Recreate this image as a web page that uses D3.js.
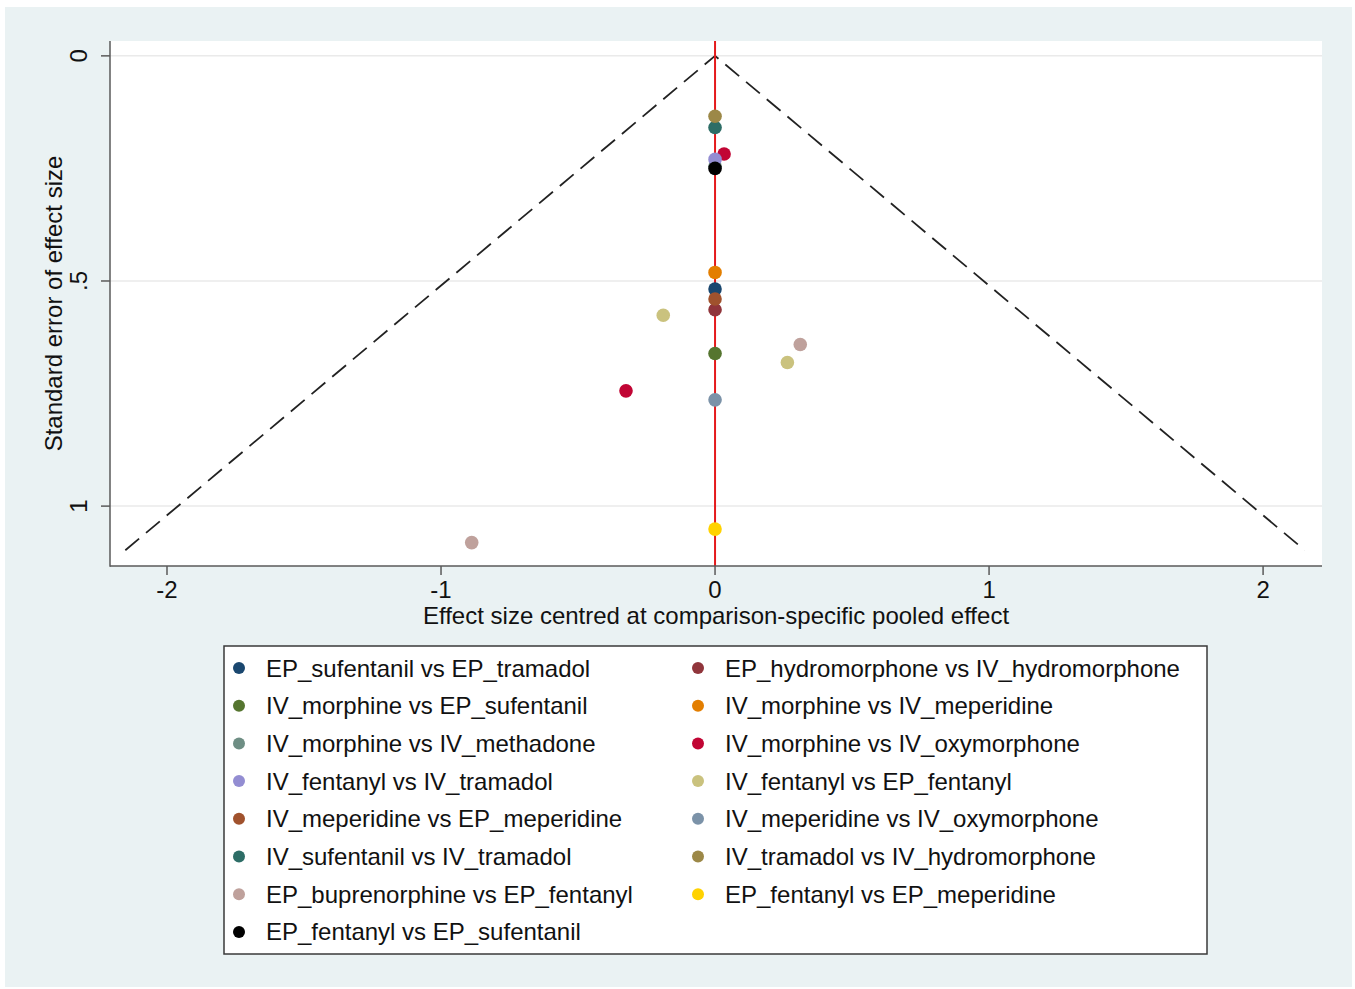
<!DOCTYPE html>
<html>
<head>
<meta charset="utf-8">
<script src="https://cdn.jsdelivr.net/npm/d3@7"></script>
<style>
  body { margin: 0; background: #ffffff; }
  svg { display: block; font-family: "Liberation Sans", Arial, sans-serif; }
</style>
</head>
<body>
<svg id="chart" width="1355" height="989"></svg>
<script>
// ---- Data ----
const seriesNames = [
  "EP_sufentanil vs EP_tramadol",
  "EP_hydromorphone vs IV_hydromorphone",
  "IV_morphine vs EP_sufentanil",
  "IV_morphine vs IV_meperidine",
  "IV_morphine vs IV_methadone",
  "IV_morphine vs IV_oxymorphone",
  "IV_fentanyl vs IV_tramadol",
  "IV_fentanyl vs EP_fentanyl",
  "IV_meperidine vs EP_meperidine",
  "IV_meperidine vs IV_oxymorphone",
  "IV_sufentanil vs IV_tramadol",
  "IV_tramadol vs IV_hydromorphone",
  "EP_buprenorphine vs EP_fentanyl",
  "EP_fentanyl vs EP_meperidine",
  "EP_fentanyl vs EP_sufentanil"
];
const seriesColors = [
  "#1a476f", "#90353b", "#55752f", "#e37e00", "#6e8e84",
  "#c10534", "#938dd2", "#cac27e", "#a0522d", "#7b92a8",
  "#2d6d66", "#9c8847", "#bfa19c", "#ffd200", "#000000"
];
// effect (centred) for each study, grouped by series index
const pointSeries = [0, 1, 2, 3, 4, 5, 5, 6, 7, 7, 8, 9, 10, 11, 12, 12, 13, 14];
const pointEffect = [0, 0, 0, 0, 0, 0.033, -0.325, 0, -0.189, 0.264, 0, 0, 0, 0, 0.311, -0.888, 0, 0];
const pointSE     = [0.518, 0.564, 0.661, 0.481, 0.245, 0.218, 0.744, 0.230, 0.576, 0.681, 0.540, 0.764, 0.159, 0.134, 0.641, 1.081, 1.051, 0.250];

const xTicks = [-2, -1, 0, 1, 2];
const yTicks = [0, 0.5, 1];
const yTickLabels = ["0", ".5", "1"];
const funnelMaxSE = 1.098;
const xTitle = "Effect size centred at comparison-specific pooled effect";
const yTitle = "Standard error of effect size";

// ---- Layout ----
const svg = d3.select("#chart");
const plot = { left: 110, right: 1322, top: 41, bottom: 566 };
const FS = 24;

svg.append("rect").attr("x", 5).attr("y", 7).attr("width", 1347).attr("height", 980)
  .attr("fill", "#eaf2f3");
svg.append("rect").attr("x", plot.left).attr("y", plot.top)
  .attr("width", plot.right - plot.left).attr("height", plot.bottom - plot.top)
  .attr("fill", "#ffffff");

const x = d3.scaleLinear().domain([-2.208, 2.215]).range([plot.left, plot.right]);
const y = d3.scaleLinear().domain([-0.033, 1.133]).range([plot.top, plot.bottom]);

// gridlines
svg.append("g").selectAll("line").data(yTicks).join("line")
  .attr("x1", plot.left).attr("x2", plot.right)
  .attr("y1", d => y(d)).attr("y2", d => y(d))
  .attr("stroke", "#eaeaea").attr("stroke-width", 1.5);

// funnel lines
const funnel = [[-1.96 * funnelMaxSE, funnelMaxSE], [0, 0], [1.96 * funnelMaxSE, funnelMaxSE]];
svg.append("path")
  .attr("d", d3.line().x(d => x(d[0])).y(d => y(d[1]))(funnel))
  .attr("fill", "none").attr("stroke", "#222").attr("stroke-width", 1.8)
  .attr("stroke-dasharray", "18,9");

// red vertical line at 0
svg.append("line")
  .attr("x1", x(0)).attr("x2", x(0)).attr("y1", plot.top).attr("y2", plot.bottom)
  .attr("stroke", "#e41a1c").attr("stroke-width", 2);

// points
const pts = pointSeries.map((s, i) => ({ s, e: pointEffect[i], se: pointSE[i] }))
  .sort((a, b) => a.s - b.s);
svg.append("g").selectAll("circle").data(pts).join("circle")
  .attr("cx", d => x(d.e)).attr("cy", d => y(d.se)).attr("r", 6.8)
  .attr("fill", d => seriesColors[d.s]);

// axes lines
svg.append("line").attr("x1", plot.left).attr("x2", plot.left)
  .attr("y1", plot.top).attr("y2", plot.bottom + 0.75)
  .attr("stroke", "#5a5a5a").attr("stroke-width", 1.5);
svg.append("line").attr("x1", plot.left).attr("x2", plot.right)
  .attr("y1", plot.bottom).attr("y2", plot.bottom)
  .attr("stroke", "#5a5a5a").attr("stroke-width", 1.5);

// x ticks
const xg = svg.append("g");
xg.selectAll("line").data(xTicks).join("line")
  .attr("x1", d => x(d)).attr("x2", d => x(d))
  .attr("y1", plot.bottom).attr("y2", plot.bottom + 9)
  .attr("stroke", "#5a5a5a").attr("stroke-width", 1.5);
xg.selectAll("text").data(xTicks).join("text")
  .attr("x", d => x(d)).attr("y", 598)
  .attr("text-anchor", "middle").attr("font-size", FS).attr("fill", "#111")
  .text(d => d);

// y ticks
const yg = svg.append("g");
yg.selectAll("line").data(yTicks).join("line")
  .attr("x1", plot.left - 9).attr("x2", plot.left)
  .attr("y1", d => y(d)).attr("y2", d => y(d))
  .attr("stroke", "#5a5a5a").attr("stroke-width", 1.5);
yg.selectAll("text").data(yTicks).join("text")
  .attr("transform", d => `translate(87,${y(d)}) rotate(-90)`)
  .attr("text-anchor", "middle").attr("font-size", FS).attr("fill", "#111")
  .text((d, i) => yTickLabels[i]);

// axis titles
svg.append("text").attr("x", 716).attr("y", 624)
  .attr("text-anchor", "middle").attr("font-size", FS).attr("fill", "#111").text(xTitle);
svg.append("text").attr("transform", `translate(62,${(plot.top + plot.bottom) / 2}) rotate(-90)`)
  .attr("text-anchor", "middle").attr("font-size", FS).attr("fill", "#111").text(yTitle);

// legend
svg.append("rect").attr("x", 224).attr("y", 646).attr("width", 983).attr("height", 308)
  .attr("fill", "#ffffff").attr("stroke", "#3a3a3a").attr("stroke-width", 1.5);
const leg = svg.append("g").selectAll("g").data(seriesNames).join("g")
  .attr("transform", (d, i) => `translate(${i % 2 === 0 ? 239 : 698},${668 + Math.floor(i / 2) * 37.7})`);
leg.append("circle").attr("r", 6).attr("fill", (d, i) => seriesColors[i]);
leg.append("text").attr("x", 27).attr("y", 8.5).attr("font-size", FS).attr("fill", "#111").text(d => d);
</script>
</body>
</html>
